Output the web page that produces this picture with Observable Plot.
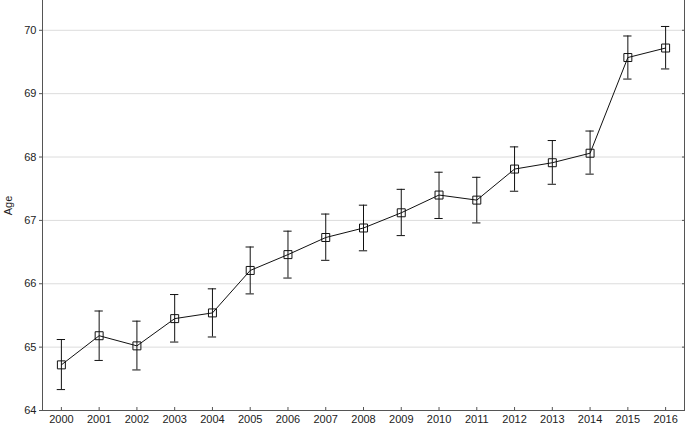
<!DOCTYPE html>
<html><head><meta charset="utf-8">
<script src="https://cdn.jsdelivr.net/npm/d3@7"></script>
<script src="https://cdn.jsdelivr.net/npm/@observablehq/plot@0.6"></script>
<style>body{margin:0;background:#fff;font-family:"Liberation Sans",Arial,sans-serif;overflow:hidden}</style>
</head><body><div id="chart"></div>
<script>
const years = [2000,2001,2002,2003,2004,2005,2006,2007,2008,2009,2010,2011,2012,2013,2014,2015,2016];
const mean  = [64.72,65.18,65.02,65.45,65.54,66.21,66.46,66.73,66.88,67.12,67.40,67.32,67.81,67.91,68.06,69.57,69.72];
const lower = [64.33,64.79,64.64,65.08,65.16,65.84,66.09,66.37,66.52,66.76,67.03,66.96,67.46,67.57,67.73,69.23,69.39];
const upper = [65.12,65.57,65.41,65.83,65.92,66.58,66.83,67.10,67.24,67.49,67.76,67.68,68.16,68.26,68.41,69.91,70.06];
const yTicks = [64,65,66,67,68,69,70];

const data = years.map((y,i)=>({year:y, mean:mean[i], lo:lower[i], hi:upper[i]}));
const capHalf = 0.11;
const axisColor = "#555";

const chart = Plot.plot({
  width: 685, height: 425,
  marginLeft: 42, marginRight: 1, marginTop: 0, marginBottom: 15,
  style: {fontFamily: "'Liberation Sans', Arial, sans-serif", fontSize: "11px", color: "#222"},
  x: {domain: [1999.5, 2016.5]},
  y: {domain: [64, 70.47]},
  marks: [
    Plot.ruleY(yTicks.slice(1), {stroke: "#dcdcdc", strokeWidth: 1}),
    Plot.axisY({anchor: "left", ticks: yTicks, tickSize: 3, tickPadding: 3, tickFormat: d3.format("d"), stroke: axisColor, label: "Age", labelAnchor: "center", labelOffset: 38, labelArrow: "none"}),
    Plot.axisY({anchor: "right", ticks: yTicks, tickSize: -3, tickFormat: () => "", label: null, stroke: axisColor}),
    Plot.axisX({ticks: years, tickSize: -3, tickPadding: 8, tickFormat: d3.format("d"), label: null, stroke: axisColor}),
    Plot.ruleX([1999.5, 2016.5], {stroke: axisColor}),
    Plot.ruleY([64], {stroke: axisColor}),
    Plot.ruleX(data, {x: "year", y1: "lo", y2: "hi", stroke: "#111"}),
    Plot.ruleY(data, {y: "hi", x1: d => d.year - capHalf, x2: d => d.year + capHalf, stroke: "#111"}),
    Plot.ruleY(data, {y: "lo", x1: d => d.year - capHalf, x2: d => d.year + capHalf, stroke: "#111"}),
    Plot.line(data, {x: "year", y: "mean", stroke: "#111", strokeWidth: 1}),
    Plot.dot(data, {x: "year", y: "mean", symbol: "square", r: 4.5, fill: "none", stroke: "#111", strokeWidth: 1})
  ]
});
document.getElementById("chart").append(chart);
</script>
</body></html>
